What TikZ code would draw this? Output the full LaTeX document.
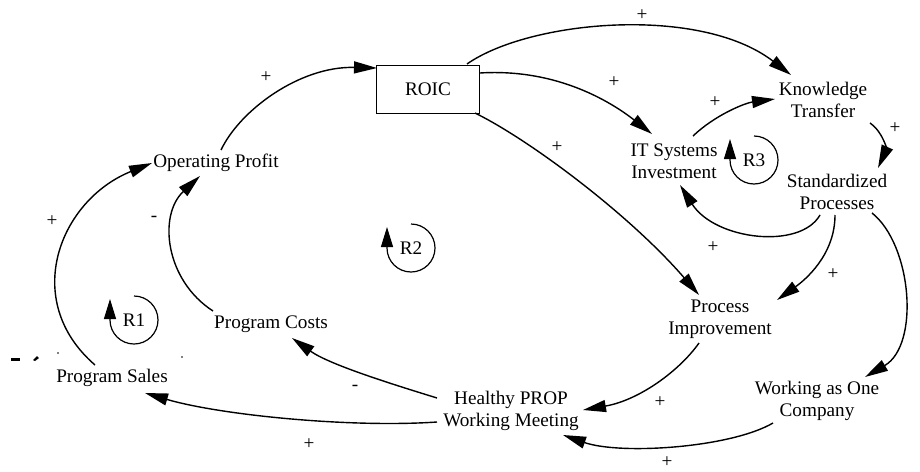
\documentclass[tikz,border=0pt]{standalone}
\usepackage{fontspec}
\setmainfont{Liberation Serif}
\usetikzlibrary{arrows.meta,calc}
\begin{document}
\begin{tikzpicture}[x=1pt,y=-1pt,
  var/.style={align=center,inner sep=0pt,font=\fontsize{19.2}{22}\selectfont},
  stockbox/.style={var,draw,line width=1pt,minimum width=103pt,minimum height=48pt},
  pol/.style={inner sep=0pt,font=\fontsize{19.2}{22}\selectfont},
  link/.style={line width=1.4pt,-{Triangle[length=23pt,width=12pt]}},
  loopsym/.style={line width=1.2pt,-{Triangle[length=20pt,width=12pt]}},
]
\useasboundingbox (0,0) rectangle (920,471);

% variables
\node[stockbox] (roic) at (428,89) {ROIC};
\node[var] (op) at (216,163) {Operating Profit};
\node[var] (ps) at (112,378) {Program Sales};
\node[var] (pc) at (271,324) {Program Costs};
\node[var] (hp) at (511,411) {Healthy PROP\\Working Meeting};
\node[var] (pi) at (720,319) {Process\\Improvement};
\node[var] (wo) at (817,401) {Working as One\\Company};
\node[var] (it) at (674,161) {IT Systems\\Investment};
\node[var] (kt) at (823,100) {Knowledge\\Transfer};
\node[var] (sp) at (837,192) {Standardized\\Processes};

% causal links
\draw[link] ($(ps)+(-17,-13)$) .. controls (20,300) and (60,200) .. ($(op)+(-64,0)$);
\draw[link] ($(pc)+(-58,-13)$) .. controls (165,280) and (158,215) .. ($(op)+(-16,13)$);
\draw[link] ($(op)+(5,-13)$) .. controls (240,110) and (300,66) .. ($(roic)+(-51,-21)$);
\draw[link] ($(roic)+(39,-25)$) .. controls (530,20) and (700,5) .. ($(kt)+(-32,-25)$);
\draw[link] ($(roic)+(52,-16)$) .. controls (560,68) and (615,105) .. ($(it)+(-22,-27)$);
\draw[link] ($(roic)+(47,24)$) .. controls (530,140) and (630,215) .. ($(pi)+(-21,-24)$);
\draw[link] ($(it)+(19,-25)$) .. controls (715,115) and (745,103) .. ($(kt)+(-48,-1)$);
\draw[link] ($(kt)+(47,23)$) .. controls (884,133) and (886,150) .. ($(sp)+(41,-24)$);
\draw[link] ($(sp)+(-17,23)$) .. controls (800,250) and (715,240) .. ($(it)+(6,24)$);
\draw[link] ($(sp)+(-2,23)$) .. controls (835,255) and (805,280) .. ($(pi)+(57,-19)$);
\draw[link] ($(sp)+(35,21)$) .. controls (912,245) and (920,345) .. ($(wo)+(48,-24)$);
\draw[link] ($(pi)+(-21,24)$) .. controls (680,370) and (640,400) .. ($(hp)+(72,-1)$);
\draw[link] ($(wo)+(-44,22)$) .. controls (730,448) and (620,455) .. ($(hp)+(52,24)$);
\draw[link] ($(hp)+(-74,-13)$) .. controls (395,385) and (330,365) .. ($(pc)+(21,14)$);
\draw[link] ($(hp)+(-74,11)$) .. controls (350,428) and (220,415) .. ($(ps)+(33,15)$);

% link polarities
\node[pol] (l1) at (52,221) {+};
\node[pol] (l2) at (154,219) {-};
\node[pol] (l3) at (266,77) {+};
\node[pol] (l4) at (642,15) {+};
\node[pol] (l5) at (614,82) {+};
\node[pol] (l6) at (557,147) {+};
\node[pol] (l7) at (715,102) {+};
\node[pol] (l8) at (895,128) {+};
\node[pol] (l9) at (713,247) {+};
\node[pol] (l10) at (833,274) {+};
\node[pol] (l12) at (660,402) {+};
\node[pol] (l13) at (667,462) {+};
\node[pol] (l14) at (355,388) {-};
\node[pol] (l15) at (309,444) {+};

% loop identifiers
\node[pol] (r1) at (134,320) {R1};
\node[pol] (r2) at (411,248) {R2};
\node[pol] (r3) at (754,160) {R3};
\draw[loopsym] ($(r1)+(0,-24)$) arc[start angle=-90,end angle=180,radius=24] -- ++(0,-21);
\draw[loopsym] ($(r2)+(0,-24)$) arc[start angle=-90,end angle=180,radius=24] -- ++(0,-21);
\draw[loopsym] ($(r3)+(0,-24)$) arc[start angle=-90,end angle=180,radius=24] -- ++(0,-21);

% specks left on the page
\fill (11,358) rectangle (20,360.5);
\fill (33,360) -- (37,356) -- (39,358) -- (35,361) -- cycle;
\fill (58,353) circle (0.9);
\fill (182,357) circle (0.9);
\end{tikzpicture}
\end{document}
